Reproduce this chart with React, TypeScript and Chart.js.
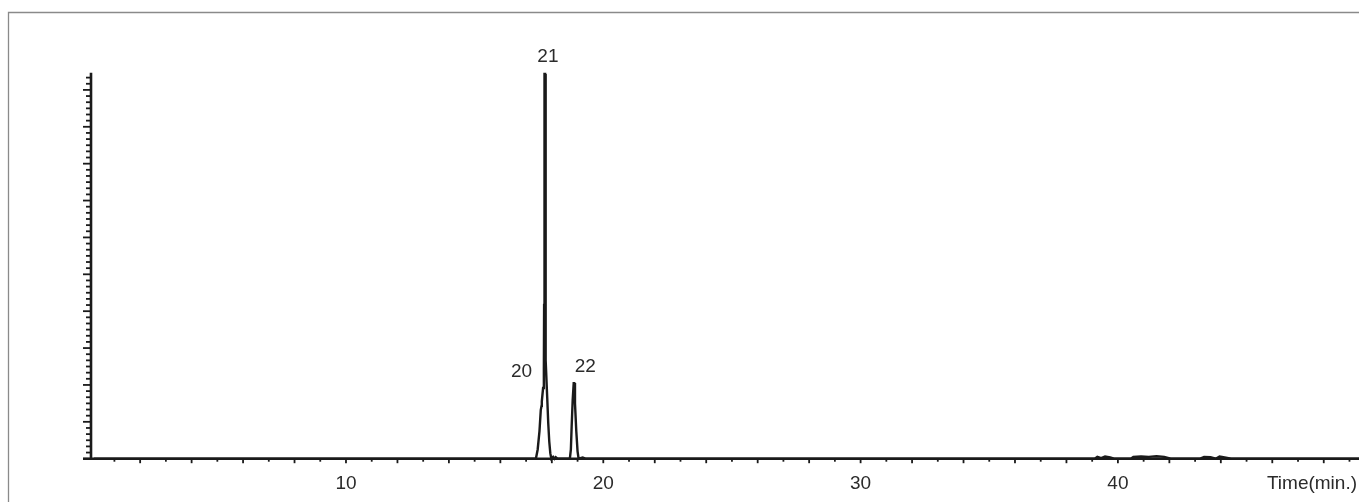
import { useEffect, useRef } from "react";
import { Chart, registerables } from "chart.js";

Chart.register(...registerables);

// ---- data ----
const times: number[] = [
  0.2, 17.38, 17.45, 17.52, 17.57, 17.6, 17.61, 17.66, 17.69, 17.7, 17.71, 17.72, 17.74,
  17.755, 17.765, 17.78, 17.82, 17.86, 17.9, 17.94, 17.98, 18.05, 18.1, 18.15, 18.22,
  18.7, 18.74, 18.77, 18.81, 18.85, 18.87, 18.9, 18.95, 19.0, 19.04, 19.2, 19.3,
  39.1, 39.2, 39.35, 39.5, 39.7, 39.85, 40.5, 40.6, 40.9, 41.2, 41.5, 41.8, 42.05,
  43.2, 43.35, 43.6, 43.8, 43.95, 44.15, 44.4, 49.37,
];
const intensity: number[] = [
  0, 0, 1.5, 4.5, 7.9, 8.6, 9.3, 11.5, 14.4, 25, 50, 62.6, 62.6,
  30, 16, 14.0, 10, 5.8, 2.8, 0.9, 0, 0.3, 0, 0.25, 0,
  0, 1.5, 5.2, 9.5, 12.3, 12.3, 9, 4.5, 1.2, 0, 0.2, 0,
  0, 0.3, 0.1, 0.35, 0.2, 0, 0, 0.3, 0.35, 0.3, 0.4, 0.3, 0,
  0, 0.3, 0.25, 0, 0.35, 0.2, 0, 0,
];
const xTickLabels: number[] = [10, 20, 30, 40];
const xAxisTitle = "Time(min.)";
const peakLabels: string[] = ["20", "21", "22"];
const peakTimes: number[] = [17.6, 17.73, 18.87];
const peakHeights: number[] = [14.4, 62.6, 12.3];

// ---- styles ----
const X_MIN = 0.09;
const X_MAX = 49.37;
const Y_MAX = 62.8;
const INK = "#1a1a1a";
const TEXT = "#2b2b2b";
const FONT = "19px 'Liberation Sans', Arial, Helvetica, sans-serif";
const LABEL_OFFSETS: [number, number][] = [
  [-20, 2],
  [3, -17],
  [11, -16],
];

const axesPlugin = {
  id: "chromAxes",
  beforeDatasetsDraw(chart: any) {
    const { ctx, chartArea, scales } = chart;
    const xs = scales.x;
    const ys = scales.y;
    ctx.save();
    // frame
    ctx.strokeStyle = "#8a8a8a";
    ctx.lineWidth = 1.3;
    ctx.beginPath();
    ctx.moveTo(8.5, chart.height + 2);
    ctx.lineTo(8.5, 12.5);
    ctx.lineTo(chart.width + 2, 12.5);
    ctx.stroke();

    const bottom = chartArea.bottom;
    const left = chartArea.left;
    ctx.strokeStyle = INK;
    // y axis ticks
    ctx.lineWidth = 1.8;
    for (let v = 0; v <= Math.floor(Y_MAX); v += 1) {
      const y = ys.getPixelForValue(v);
      const len = v % 6 === 0 ? 8 : 5;
      ctx.beginPath();
      ctx.moveTo(left, y);
      ctx.lineTo(left - len, y);
      ctx.stroke();
    }
    // x axis ticks
    for (let t = 1; t <= Math.floor(X_MAX); t += 1) {
      const x = xs.getPixelForValue(t);
      const len = t % 2 === 0 ? 4.5 : 3;
      ctx.beginPath();
      ctx.moveTo(x, bottom);
      ctx.lineTo(x, bottom + len);
      ctx.stroke();
    }
    // axis lines
    ctx.lineWidth = 2.6;
    ctx.beginPath();
    ctx.moveTo(left, ys.getPixelForValue(Y_MAX));
    ctx.lineTo(left, bottom);
    ctx.stroke();
    ctx.beginPath();
    ctx.moveTo(left - 8, bottom);
    ctx.lineTo(chart.width, bottom);
    ctx.stroke();

    // tick labels
    ctx.fillStyle = TEXT;
    ctx.font = FONT;
    ctx.textBaseline = "middle";
    ctx.textAlign = "center";
    xTickLabels.forEach((t) => {
      ctx.fillText(String(t), xs.getPixelForValue(t), bottom + 25);
    });
    ctx.textAlign = "right";
    ctx.fillText(xAxisTitle, chart.width - 2, bottom + 25);
    ctx.restore();
  },
  afterDraw(chart: any) {
    const { ctx, scales } = chart;
    ctx.save();
    ctx.fillStyle = TEXT;
    ctx.font = FONT;
    ctx.textAlign = "center";
    ctx.textBaseline = "middle";
    peakLabels.forEach((lab, i) => {
      const x = scales.x.getPixelForValue(peakTimes[i]) + LABEL_OFFSETS[i][0];
      const y = scales.y.getPixelForValue(peakHeights[i]) + LABEL_OFFSETS[i][1];
      ctx.fillText(lab, x, y);
    });
    ctx.restore();
  },
};

export default function App() {
  const canvasRef = useRef<HTMLCanvasElement | null>(null);

  useEffect(() => {
    if (!canvasRef.current) return;
    const chart = new Chart(canvasRef.current, {
      type: "line",
      data: {
        datasets: [
          {
            data: times.map((t, i) => ({ x: t, y: intensity[i] })),
            borderColor: INK,
            borderWidth: 2.4,
            pointRadius: 0,
            tension: 0,
            fill: false,
            clip: false as any,
          },
        ],
      },
      options: {
        animation: false,
        responsive: false,
        devicePixelRatio: 1,
        layout: { padding: { left: 91, right: 0, top: 72.7, bottom: 502 - 458.7 } },
        plugins: { legend: { display: false }, tooltip: { enabled: false } },
        scales: {
          x: { type: "linear", min: X_MIN, max: X_MAX, display: false },
          y: { type: "linear", min: 0, max: Y_MAX, display: false },
        },
      },
      plugins: [axesPlugin],
    });
    return () => chart.destroy();
  }, []);

  return (
    <div style={{ position: "absolute", left: 0, top: 0, width: 1359, height: 502, background: "#fff" }}>
      <canvas ref={canvasRef} width={1359} height={502} style={{ display: "block" }} />
    </div>
  );
}
